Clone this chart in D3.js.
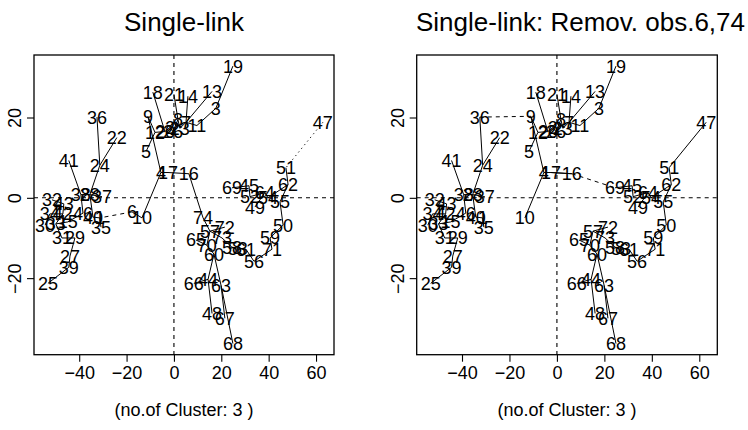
<!DOCTYPE html>
<html><head><meta charset="utf-8">
<script src="https://cdn.jsdelivr.net/npm/d3@7"></script>
<style>
body{margin:0;background:#fff}
svg{display:block}
text{font-family:"Liberation Sans",Arial,Helvetica,sans-serif;fill:#000}
</style>
</head><body>
<svg id="chart" width="748" height="430"></svg>
<script>
// ---- data ----
const ids = [1,2,3,4,5,6,7,8,9,10,11,12,13,14,15,16,17,18,19,20,21,22,23,24,25,26,27,28,29,30,31,32,33,34,35,36,37,38,39,40,41,42,43,44,45,46,47,48,49,50,51,52,53,54,55,56,57,58,59,60,61,62,63,64,65,66,67,68,69,70,71,72,73,74];
const xVals = [-31.3,-1.7,17.7,-5.5,-11.8,-17.7,5.1,1.7,-11.0,-13.5,9.7,-8.0,16.1,5.9,-44.8,6.3,-2.5,-8.9,24.9,-3.8,0.0,-24.1,2.5,-31.3,-53.2,-0.4,-43.9,-35.5,-41.8,-54.4,-47.3,-51.5,-49.9,-52.4,-30.8,-32.5,-30.4,-39.3,-44.4,-34.2,-44.4,-46.9,-46.5,14.4,31.7,-38.4,62.9,16.1,34.2,46.1,47.3,32.1,27.0,39.7,44.8,33.8,15.2,24.5,40.6,16.9,30.4,48.2,19.9,38.4,9.3,8.4,21.5,24.9,24.5,13.9,41.4,21.5,20.3,12.3];
const yVals = [-5.0,17.5,22.3,6.3,11.5,-3.5,18.8,19.5,20.3,-5.0,18.0,16.3,26.5,25.3,-6.0,6.0,6.3,26.3,32.8,16.5,25.8,15.0,17.3,8.1,-21.3,16.5,-14.5,0.8,-10.0,-6.8,-10.0,-0.5,-6.5,-4.0,-7.3,20.1,0.3,0.8,-17.3,-4.8,9.3,-4.0,-1.5,-20.3,3.0,-3.8,18.8,-28.8,-2.3,-6.8,7.5,0.3,-12.5,0.0,-1.0,-15.8,-8.3,-12.3,-10.0,-14.0,-12.8,3.3,-21.8,1.3,-10.5,-21.3,-30.0,-36.3,2.5,-11.8,-12.8,-7.3,-10.0,-5.0];

// shared single-link tree edges (same in both panels)
const commonEdges = [
  [19,3],[3,11],[11,7],[13,7],[14,7],[21,8],[8,23],[23,7],[8,26],[26,2],[2,20],[20,18],[20,12],[12,5],[9,4],[4,17],[17,16],[4,10],
  [57,72],[57,70],[70,65],[70,60],[57,73],[73,58],[58,53],[53,61],[61,56],[56,71],[71,59],[59,50],[50,55],[55,62],[62,51],[62,54],[54,64],[64,49],[64,52],[52,45],[45,69],
  [60,44],[44,66],[44,48],[60,63],[63,67],[63,68],
  [36,24],[22,24],[24,28],[41,38],[38,28],[28,37],[28,40],[38,46],[40,1],[1,35],[46,15],[15,33],[33,42],[42,34],[34,30],[42,43],[43,32],[33,31],[31,29],[29,27],[27,39],[39,25]
];
// panel 1 (all observations): solid extra edges and cut edges
const edges1Solid = [[12,9],[10,6],[16,74],[74,57]];
const edges1Dashed = [[6,1]];
const edges1Dotted = [[47,51]];
// panel 2 (obs. 6 and 74 removed)
const removed2 = [6,74];
const edges2Solid = [[12,9],[47,51],[16,17]];
const edges2Dashed = [[36,9],[16,69]];

const xTicks = [-40,-20,0,20,40,60];
const yTicks = [-20,0,20];
const titles = ["Single-link","Single-link: Remov. obs.6,74"];
const xLabel = "(no.of Cluster: 3 )";

// ---- drawing ----
const svg = d3.select("#chart");
const panels = [
  {left:34, right:334, title:titles[0], tx:184, anchor:"middle", excl:[], solid:edges1Solid, dashed:edges1Dashed, dotted:edges1Dotted},
  {left:416.7, right:717.3, title:titles[1], tx:416, anchor:"start", excl:removed2, solid:edges2Solid, dashed:edges2Dashed, dotted:[]}
];
const plotTop = 55, plotBottom = 354.7;
const FS = 18;

panels.forEach(p => {
  const pts = ids.map((id,i)=>({id, x:xVals[i], y:yVals[i]})).filter(d => !p.excl.includes(d.id));
  const byId = new Map(pts.map(d=>[d.id,d]));
  const ex = d3.extent(pts, d=>d.x), ey = d3.extent(pts, d=>d.y);
  const padX = (ex[1]-ex[0])*0.04, padY = (ey[1]-ey[0])*0.04;
  const x = d3.scaleLinear().domain([ex[0]-padX, ex[1]+padX]).range([p.left, p.right]);
  const y = d3.scaleLinear().domain([ey[0]-padY, ey[1]+padY]).range([plotBottom, plotTop]);
  const g = svg.append("g");

  // reference lines
  g.append("line").attr("x1",x(0)).attr("x2",x(0)).attr("y1",plotTop).attr("y2",plotBottom)
    .attr("stroke","#000").attr("stroke-width",1.1).attr("stroke-dasharray","4,4");
  g.append("line").attr("x1",p.left).attr("x2",p.right).attr("y1",y(0)).attr("y2",y(0))
    .attr("stroke","#000").attr("stroke-width",1.1).attr("stroke-dasharray","4,4");

  const drawEdges = (list, dash) => {
    list.forEach(([a,b]) => {
      const A = byId.get(a), B = byId.get(b);
      if(!A || !B) return;
      const l = g.append("line").attr("x1",x(A.x)).attr("y1",y(A.y)).attr("x2",x(B.x)).attr("y2",y(B.y))
        .attr("stroke","#000").attr("stroke-width",1);
      if(dash) l.attr("stroke-dasharray",dash);
    });
  };
  drawEdges(commonEdges, null);
  drawEdges(p.solid, null);
  drawEdges(p.dashed, "4,4");
  drawEdges(p.dotted, "1.2,3.5");

  // labels
  g.selectAll("text.pt").data(pts).join("text").attr("class","pt")
    .attr("x",d=>x(d.x)).attr("y",d=>y(d.y)).attr("dy","0.36em")
    .attr("text-anchor","middle").attr("font-size",FS).text(d=>d.id);

  // box
  g.append("rect").attr("x",p.left).attr("y",plotTop).attr("width",p.right-p.left).attr("height",plotBottom-plotTop)
    .attr("fill","none").attr("stroke","#000").attr("stroke-width",1.3);

  // x axis
  const xa = g.append("g").attr("transform",`translate(0,${plotBottom})`)
    .call(d3.axisBottom(x).tickValues(xTicks).tickSize(7).tickPadding(5).tickFormat(d3.format("d")));
  xa.select(".domain").remove();
  xa.selectAll("line").attr("stroke","#000").attr("stroke-width",1.1);
  xa.selectAll("text").attr("font-size",FS).attr("font-family","Liberation Sans, Arial, sans-serif").attr("fill","#000");

  // y axis
  const ya = g.append("g").attr("transform",`translate(${p.left},0)`)
    .call(d3.axisLeft(y).tickValues(yTicks).tickSize(7).tickFormat(d3.format("d")));
  ya.select(".domain").remove();
  ya.selectAll("line").attr("stroke","#000").attr("stroke-width",1.1);
  ya.selectAll("text").attr("font-size",FS).attr("font-family","Liberation Sans, Arial, sans-serif").attr("fill","#000")
    .attr("transform","rotate(-90)").attr("x",0).attr("dy",0)
    .attr("y",-13).attr("text-anchor","middle");

  // title and x label
  g.append("text").attr("x",p.tx).attr("y",31).attr("text-anchor",p.anchor).attr("font-size",26).text(p.title);
  g.append("text").attr("x",(p.left+p.right)/2).attr("y",416).attr("text-anchor","middle").attr("font-size",FS).text(xLabel);
});
</script>
</body></html>
